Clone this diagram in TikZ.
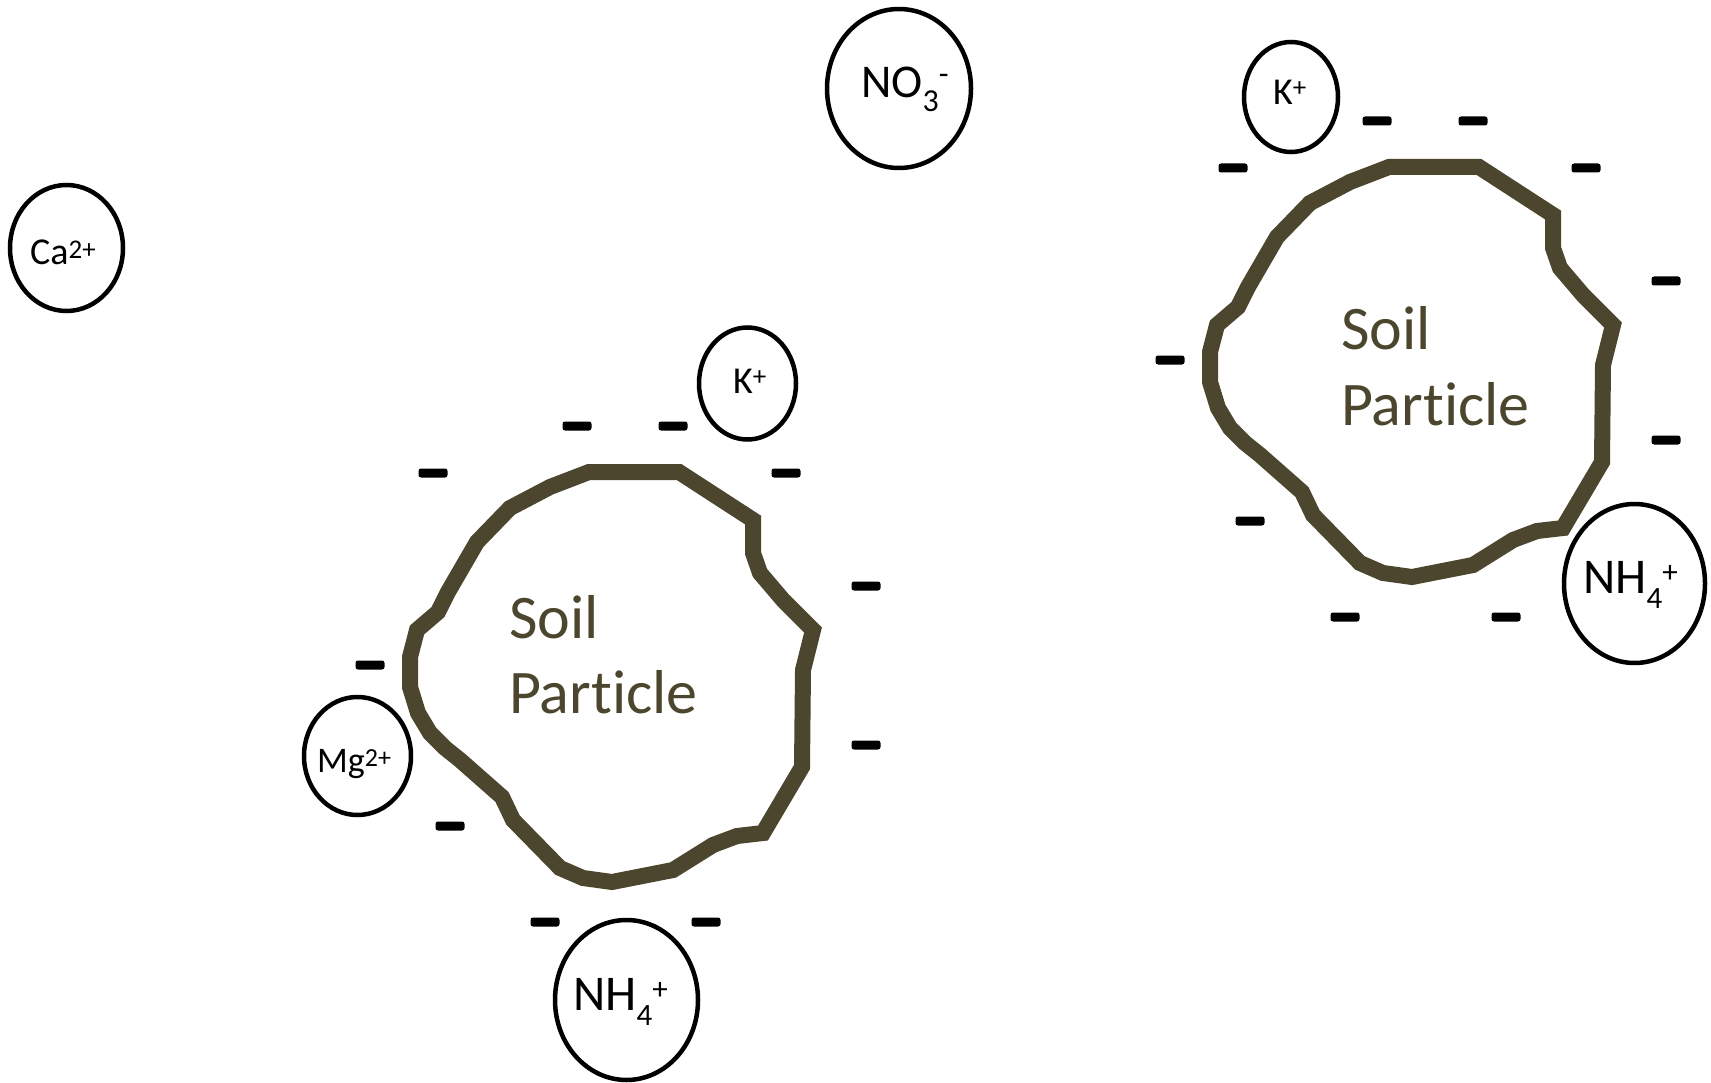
\documentclass[tikz,border=0pt]{standalone}
\usepackage{fontspec}
\setmainfont[Ligatures={NoCommon,NoRare,NoContextual}]{Carlito}
\usetikzlibrary{shapes.geometric}
\definecolor{soil}{RGB}{75,70,45}
\newcommand\ionsub[3]{\raisebox{-#2pt}{\fontsize{#1pt}{#1pt}\selectfont #3}}
\newcommand\ionsup[3]{\raisebox{#2pt}{\fontsize{#1pt}{#1pt}\selectfont #3}}
\begin{document}
\begin{tikzpicture}[x=1pt,y=-1pt,
  particle/.style={draw=soil, line width=16pt, line join=miter},
  ion/.style={draw=black, line width=4.5pt, ellipse, inner sep=0pt},
  iontext/.style={anchor=base west, inner sep=0pt, text=black},
  soiltext/.style={anchor=base west, inner sep=0pt, text=soil, font=\fontsize{62pt}{76pt}\selectfont},
  charge/.style={fill=black, rounded corners=2.5pt},
  soilgroup/.pic={
    \draw[particle] (589,472) -- (679,472) -- (753,520) -- (753,553) -- (760,573) -- (783,600)
      -- (813,630) -- (803,670) -- (802,767) -- (763,833) -- (737,836) -- (713,845) -- (673,870)
      -- (612,882) -- (583,878) -- (560,868) -- (513,820) -- (502,797) -- (460,760) -- (445,748)
      -- (430,733) -- (418,713) -- (410,687) -- (410,657) -- (417,630) -- (438,612) -- (448,592)
      -- (477,542) -- (510,508) -- (550,487) -- cycle;
    \foreach \cx/\cy in {577/426, 673/426, 433/473, 786/473, 866/586, 866/745, 370/665, 450/826, 545/922, 706/922}
      \fill[charge] (\cx-14.5,\cy-4.5) rectangle (\cx+14.5,\cy+4.5);
  }]
\useasboundingbox (0,0) rectangle (1711,1083);
\fill[white] (0,0) rectangle (1711,1083);

\pic (pa) at (0,0) {soilgroup};
\pic (pb) at (800,-305) {soilgroup};

\node[soiltext] (soilA1) at (509,638) {Soil};
\node[soiltext] (soilA2) at (509,713) {Part\kern0pt icle};
\node[soiltext] (soilB1) at (1341,349) {Soil};
\node[soiltext] (soilB2) at (1341,425) {Part\kern0pt icle};

% ions
\node[ion, minimum width=144pt, minimum height=159pt] (no3) at (899,88.5) {};
\node[iontext, font=\fontsize{47pt}{47pt}\selectfont] (no3t) at (861,98) {NO\ionsub{32}{14}{3}\ionsup{32}{13}{-}};

\node[ion, minimum width=113pt, minimum height=126pt] (ca) at (66.5,248) {};
\node[iontext, font=\fontsize{38pt}{38pt}\selectfont] (cat) at (30,265) {Ca\ionsup{27}{6}{2+}};

\node[ion, minimum width=97pt, minimum height=112pt] (k1) at (747.5,383.5) {};
\node[iontext, font=\fontsize{38pt}{38pt}\selectfont] (k1t) at (733,393) {K\ionsup{27}{8}{+}};

\node[ion, minimum width=107pt, minimum height=118pt] (mg) at (357.5,756) {};
\node[iontext, font=\fontsize{36pt}{36pt}\selectfont] (mgt) at (317,772) {Mg\ionsup{26}{6}{2+}};

\node[ion, minimum width=143pt, minimum height=160pt] (nh1) at (626.5,1000) {};
\node[iontext, font=\fontsize{50pt}{50pt}\selectfont] (nh1t) at (573,1010) {NH\ionsub{31}{15}{4}\ionsup{31}{11}{+}};

\node[ion, minimum width=94pt, minimum height=110pt] (k2) at (1291,97) {};
\node[iontext, font=\fontsize{38pt}{38pt}\selectfont] (k2t) at (1273,105) {K\ionsup{27}{8}{+}};

\node[ion, minimum width=141pt, minimum height=159pt] (nh2) at (1634.5,583.5) {};
\node[iontext, font=\fontsize{50pt}{50pt}\selectfont] (nh2t) at (1583,593) {NH\ionsub{31}{15}{4}\ionsup{31}{11}{+}};
\end{tikzpicture}
\end{document}
